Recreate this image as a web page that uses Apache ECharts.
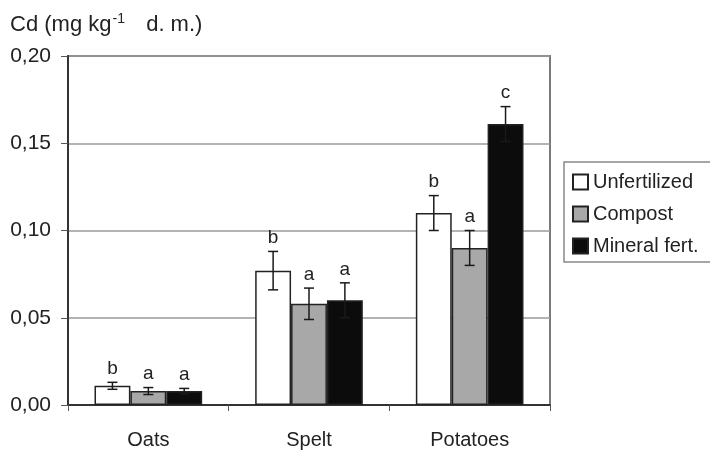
<!DOCTYPE html>
<html>
<head>
<meta charset="utf-8">
<script src="https://cdn.jsdelivr.net/npm/echarts@6/dist/echarts.min.js"></script>
<style>
  html, body { margin: 0; padding: 0; background: #fff; }
  #chart { width: 710px; height: 450px; }
</style>
</head>
<body>
<div id="chart"></div>
<script>
const categories = ['Oats', 'Spelt', 'Potatoes']
const seriesNames = ['Unfertilized', 'Compost', 'Mineral fert.']

const unfertilized = [0.011, 0.077, 0.110]
const compost = [0.008, 0.058, 0.090]
const mineral = [0.008, 0.060, 0.161]

const unfertilizedErr = [0.002, 0.011, 0.010]
const compostErr = [0.002, 0.009, 0.010]
const mineralErr = [0.0015, 0.010, 0.010]

const unfertilizedLetters = ['b', 'b', 'b']
const compostLetters = ['a', 'a', 'a']
const mineralLetters = ['a', 'a', 'c']

const fontFamily = '"Liberation Sans", Arial, sans-serif'
const barColors = ['#ffffff', '#a8a8a8', '#0c0c0c']
const catGap = 0.33

const values = [unfertilized, compost, mineral]
const errors = [unfertilizedErr, compostErr, mineralErr]
const letters = [unfertilizedLetters, compostLetters, mineralLetters]

// error bars + significance letters, one row per bar
const errData = []
values.forEach((vals, s) => {
  vals.forEach((v, i) => {
    errData.push([i, v, errors[s][i], letters[s][i], s])
  })
})

const renderErr = (params, api) => {
  const cat = api.value(0)
  const v = api.value(1)
  const e = api.value(2)
  const s = api.value(4)
  const band = api.size([1, 0])[0]
  const bw = band * (1 - catGap) / 3
  const center = api.coord([cat, v])
  const x = center[0] + (s - 1) * bw
  const yTop = api.coord([cat, v + e])[1]
  const yBot = api.coord([cat, v - e])[1]
  const cap = 5
  const stroke = { stroke: '#1a1a1a', lineWidth: 1.5 }
  const letter = errData[params.dataIndex][3]
  return {
    type: 'group',
    children: [
      { type: 'line', shape: { x1: x, y1: yTop, x2: x, y2: yBot }, style: stroke },
      { type: 'line', shape: { x1: x - cap, y1: yTop, x2: x + cap, y2: yTop }, style: stroke },
      { type: 'line', shape: { x1: x - cap, y1: yBot, x2: x + cap, y2: yBot }, style: stroke },
      {
        type: 'text',
        style: {
          x: x, y: yTop - 4, text: letter,
          align: 'center', verticalAlign: 'bottom',
          fontSize: 19, fontFamily: fontFamily, fill: '#222'
        }
      }
    ]
  }
}

const chart = echarts.init(document.getElementById('chart'))

const option = {
  animation: false,
  title: {
    text: '{a|Cd (mg kg}{sup|-1}{a|  d. m.)}',
    left: 5,
    top: 7,
    textStyle: {
      fontWeight: 'normal',
      rich: {
        a: { fontSize: 22, fontWeight: 'normal', fontFamily: fontFamily, color: '#222', lineHeight: 24, verticalAlign: 'bottom' },
        sup: { fontSize: 14, fontWeight: 'normal', fontFamily: fontFamily, color: '#222', lineHeight: 24, verticalAlign: 'top', padding: [0, 9, 0, 1] }
      }
    }
  },
  legend: {
    data: seriesNames,
    orient: 'vertical',
    left: 564,
    top: 162,
    width: 146,
    padding: [10, 20, 6, 8],
    itemGap: 12,
    itemWidth: 15,
    itemHeight: 15,
    icon: 'rect',
    borderColor: '#888',
    borderWidth: 1.5,
    textStyle: { fontSize: 20, fontFamily: fontFamily, color: '#222', lineHeight: 20 }
  },
  grid: {
    left: 68,
    right: 160,
    top: 56,
    bottom: 45,
    show: true,
    borderColor: '#7a7a7a',
    borderWidth: 2
  },
  xAxis: {
    type: 'category',
    data: categories,
    axisLine: { lineStyle: { color: '#333', width: 2 } },
    axisTick: { show: true, length: 6, lineStyle: { color: '#555' } },
    axisLabel: { fontSize: 20, fontFamily: fontFamily, color: '#222', margin: 25 }
  },
  yAxis: {
    type: 'value',
    min: 0,
    max: 0.2,
    interval: 0.05,
    axisLine: { show: true, lineStyle: { color: '#333', width: 2 } },
    axisTick: { show: true, length: 7, lineStyle: { color: '#555' } },
    axisLabel: {
      fontSize: 21,
      fontFamily: fontFamily,
      color: '#222',
      margin: 17,
      formatter: (v) => v.toFixed(2).replace('.', ',')
    },
    splitLine: { lineStyle: { color: '#9a9a9a', width: 1.5 } }
  },
  series: [
    ...seriesNames.map((name, s) => ({
      name: name,
      type: 'bar',
      data: values[s],
      barGap: '0%',
      barCategoryGap: (catGap * 100) + '%',
      itemStyle: { color: barColors[s], borderColor: '#222', borderWidth: 1.5 }
    })),
    {
      type: 'custom',
      renderItem: renderErr,
      data: errData,
      encode: { x: 0, y: 1 },
      z: 10,
      silent: true
    }
  ]
}

chart.setOption(option)
</script>
</body>
</html>
